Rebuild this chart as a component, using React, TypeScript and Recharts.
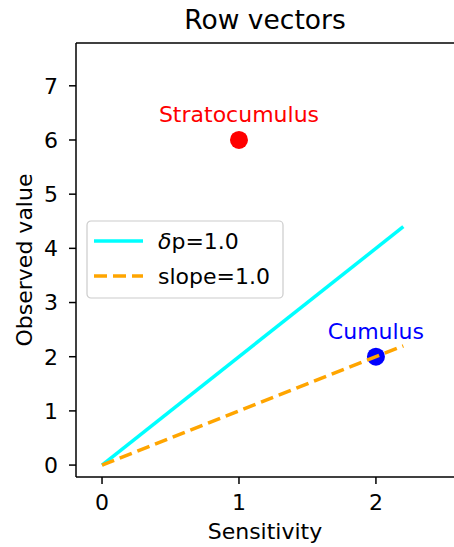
import React from 'react';
import { ComposedChart, XAxis, YAxis, Line, Scatter } from 'recharts';

const pointNames = ['Stratocumulus', 'Cumulus'];
const pointX = [1, 2];
const pointY = [6, 2];
const pointColors = ['#ff0000', '#0000ff'];

const lineX = [0, 2.2];
const deltaY = [0, 4.4];
const slopeY = [0, 2.2];

const xTicks = [0, 1, 2];
const yTicks = [0, 1, 2, 3, 4, 5, 6, 7];

const legendLabels = ['p=1.0', 'slope=1.0'];

const FONT = 'DejaVu Sans';

const points = pointNames.map((name, i) => ({ name, x: pointX[i], y: pointY[i], color: pointColors[i] }));
const deltaData = lineX.map((x, i) => ({ x, y: deltaY[i] }));
const slopeData = lineX.map((x, i) => ({ x, y: slopeY[i] }));

const PointShape = (props: any) => {
  const { cx, cy, payload } = props;
  return (
    <g>
      <circle cx={cx} cy={cy} r={9} fill={payload.color} />
      <text x={cx} y={cy - 18} textAnchor="middle" fill={payload.color} fontSize={22} fontFamily={FONT}>
        {payload.name}
      </text>
    </g>
  );
};

export default function App() {
  const tickStyle = { fill: '#000', fontSize: 22, fontFamily: FONT };
  return (
    <div style={{ position: 'absolute', left: 0, top: 0, width: 454, height: 547, background: '#fff' }}>
      <ComposedChart width={454} height={547} margin={{ top: 42, right: 0, bottom: 4, left: 0 }}>
        <XAxis
          xAxisId="top"
          orientation="top"
          type="number"
          dataKey="x"
          domain={[-0.19, 2.57]}
          allowDataOverflow
          height={1}
          tick={false}
          tickLine={false}
          axisLine={{ stroke: '#000', strokeWidth: 1.5 }}
          label={{ value: 'Row vectors', position: 'top', offset: 13, fill: '#000', fontSize: 26.5, fontFamily: FONT }}
        />
        <XAxis
          type="number"
          dataKey="x"
          domain={[-0.19, 2.57]}
          allowDataOverflow
          ticks={xTicks}
          height={66}
          tickSize={7}
          tickMargin={10}
          tick={tickStyle}
          tickLine={{ stroke: '#000', strokeWidth: 1.5 }}
          axisLine={{ stroke: '#000', strokeWidth: 1.5 }}
          label={{ value: 'Sensitivity', position: 'insideBottom', offset: 4, fill: '#000', fontSize: 22, fontFamily: FONT }}
        />
        <YAxis
          type="number"
          dataKey="y"
          domain={[-0.22, 7.79]}
          allowDataOverflow
          ticks={yTicks}
          width={76}
          tickSize={7}
          tickMargin={11}
          tick={tickStyle}
          tickLine={{ stroke: '#000', strokeWidth: 1.5 }}
          axisLine={{ stroke: '#000', strokeWidth: 1.5 }}
          label={{
            content: () => (
              <text
                x={32}
                y={260}
                transform="rotate(-90 32 260)"
                textAnchor="middle"
                fill="#000"
                fontSize={22}
                fontFamily={FONT}
              >
                Observed value
              </text>
            ),
          }}
        />
        <Scatter data={points} shape={PointShape} isAnimationActive={false} zIndex={300} />
        <Line
          data={deltaData}
          dataKey="y"
          type="linear"
          stroke="#00ffff"
          strokeWidth={3.5}
          dot={false}
          activeDot={false}
          isAnimationActive={false}
          zIndex={700}
        />
        <Line
          data={slopeData}
          dataKey="y"
          type="linear"
          stroke="#ffa500"
          strokeWidth={3.5}
          strokeDasharray="13 6"
          dot={false}
          activeDot={false}
          isAnimationActive={false}
          zIndex={700}
        />
      </ComposedChart>
      <svg
        width={198}
        height={79}
        style={{ position: 'absolute', left: 86, top: 220 }}
      >
        <rect x={1} y={1} width={196} height={77} rx={4} ry={4} fill="#fff" fillOpacity={0.8} stroke="#cccccc" strokeWidth={1.2} />
        <line x1={8} y1={21} x2={57} y2={21} stroke="#00ffff" strokeWidth={3.5} />
        <text x={72} y={21} dominantBaseline="central" fill="#000" fontSize={22} fontFamily={FONT}>
          <tspan fontStyle="italic">δ</tspan>
          {legendLabels[0]}
        </text>
        <line x1={8} y1={56} x2={57} y2={56} stroke="#ffa500" strokeWidth={3.5} strokeDasharray="13 6" />
        <text x={72} y={56} dominantBaseline="central" fill="#000" fontSize={22} fontFamily={FONT}>
          {legendLabels[1]}
        </text>
      </svg>
    </div>
  );
}
